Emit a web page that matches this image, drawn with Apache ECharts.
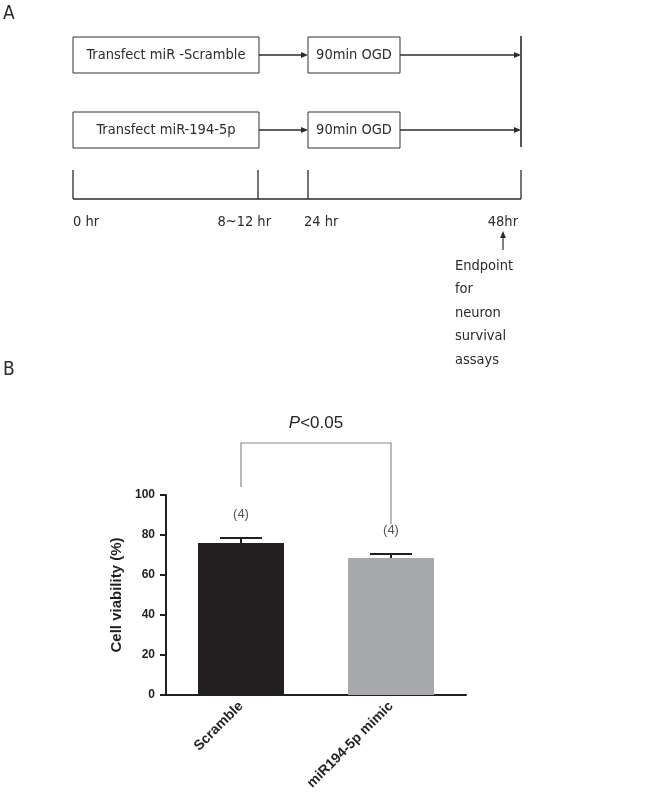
<!DOCTYPE html>
<html>
<head>
<meta charset="utf-8">
<script src="https://cdn.jsdelivr.net/npm/echarts@6/dist/echarts.min.js"></script>
<style>html,body{margin:0;padding:0;background:#fff}#main{width:662px;height:795px}</style>
</head>
<body>
<div id="main"></div>
<script>
// 面板A 文字
var rowLabels = ['Transfect miR -Scramble', 'Transfect miR-194-5p'];
var stepLabel = '90min OGD';
var timeLabels = ['0 hr', '8~12 hr', '24 hr', '48hr'];
var endpointText = ['Endpoint', 'for', 'neuron', 'survival', 'assays'];

// 面板B 数据
var groups = ['Scramble', 'miR194-5p mimic'];
var viability = [76, 68.5];
var sem = [2.5, 2];
var nLabels = ['(4)', '(4)'];
var bracketY = [104, 126, 85.5];
var pValue = '<0.05';
var barColors = ['#231f20', '#a7a9ac'];

var fontA = '"Liberation Sans Narrow", "DejaVu Sans Condensed", "Liberation Sans", sans-serif';
var ink = '#2b2b2b';
var graphics = [];

function txt(x, y, s, align, size) {
	graphics.push({type:'text', x:x, y:y, style:{text:s, fontSize:size || 14.5, fontFamily:fontA, fill:ink, align:align || 'left', verticalAlign:'middle'}});
}
function line(x1, y1, x2, y2, w) {
	graphics.push({type:'line', shape:{x1:x1, y1:y1, x2:x2, y2:y2}, style:{stroke:ink, lineWidth:w || 1.3}});
}
function arrowR(x1, x2, y) {
	line(x1, y, x2 - 5, y);
	graphics.push({type:'polygon', shape:{points:[[x2 - 7, y - 3], [x2, y], [x2 - 7, y + 3]]}, style:{fill:ink}});
}
function box(x, y, w, h, s) {
	graphics.push({type:'rect', shape:{x:x, y:y, width:w, height:h}, style:{fill:'#fff', stroke:'#333', lineWidth:1}});
	txt(x + w / 2, y + h / 2, s, 'center');
}

/* 面板A 流程图 */
txt(3, 14, 'A', 'left', 19);
txt(3, 370, 'B', 'left', 19);
[37, 112].forEach(function (y, i) {
	box(73, y, 186, 36, rowLabels[i]);
	arrowR(259, 308, y + 18);
	box(308, y, 92, 36, stepLabel);
	arrowR(400, 521, y + 18);
});
line(521, 36, 521, 147, 1.6);
line(73, 199, 521, 199, 1.6);
[73, 258, 308, 521].forEach(function (x) { line(x, 170, x, 199, 1.3); });
txt(73, 222, timeLabels[0], 'left');
txt(271, 222, timeLabels[1], 'right');
txt(304, 222, timeLabels[2], 'left');
txt(518, 222, timeLabels[3], 'right');
line(503, 250, 503, 236, 1.2);
graphics.push({type:'polygon', shape:{points:[[500, 238], [503, 231], [506, 238]]}, style:{fill:ink}});
endpointText.forEach(function (s, i) { txt(455, 266 + 23.5 * i, s, 'left'); });

/* 误差线 */
function renderError(params, api) {
	var i = api.value(0);
	var base = api.coord([i, api.value(1)]);
	var hi = api.coord([i, api.value(1) + api.value(2)]);
	var st = {stroke:'#231f20', lineWidth:2};
	return {type:'group', children:[
		{type:'line', shape:{x1:base[0], y1:base[1], x2:hi[0], y2:hi[1]}, style:st},
		{type:'line', shape:{x1:hi[0] - 21, y1:hi[1], x2:hi[0] + 21, y2:hi[1]}, style:st},
		{type:'text', x:hi[0], y:hi[1] - 24, style:{text:nLabels[i], fontSize:13, fontFamily:'Liberation Sans', fill:'#555', align:'center', verticalAlign:'middle'}}
	]};
}
/* 显著性括号 */
function renderBracket(params, api) {
	var a = api.coord([api.value(0), api.value(2)]);
	var b = api.coord([api.value(0), api.value(3)]);
	var c = api.coord([api.value(1), api.value(3)]);
	var d = api.coord([api.value(1), api.value(4)]);
	return {type:'group', children:[
		{type:'polyline', shape:{points:[a, b, c, d]}, style:{stroke:'#8a8a8a', lineWidth:1.2, fill:null}},
		{type:'text', x:(b[0] + c[0]) / 2, y:b[1] - 20, style:{text:'{i|P}' + pValue, fontSize:17, fontFamily:'Liberation Sans', fill:'#222', align:'center', verticalAlign:'middle',
			rich:{i:{fontStyle:'italic', fontSize:17, fontFamily:'Liberation Sans', fill:'#222'}}}}
	]};
}

option = {
	backgroundColor:'#fff',
	animation:false,
	graphic:graphics,
	grid:{left:166, top:495, width:300, height:200},
	xAxis:{
		type:'category',
		data:groups,
		axisLine:{lineStyle:{color:'#231f20', width:2}},
		axisTick:{alignWithLabel:true, length:5, lineStyle:{color:'#231f20', width:2}},
		axisLabel:{rotate:45, margin:9, fontWeight:'bold', fontSize:14, fontFamily:'Liberation Sans', color:'#231f20'}
	},
	yAxis:{
		type:'value', min:0, max:100, interval:20,
		name:'Cell viability (%)', nameLocation:'middle', nameGap:42, nameRotate:90,
		nameTextStyle:{fontWeight:'bold', fontSize:15, fontFamily:'Liberation Sans', color:'#231f20'},
		axisLine:{show:true, lineStyle:{color:'#231f20', width:2}},
		axisTick:{show:true, length:6, lineStyle:{color:'#231f20', width:2}},
		splitLine:{show:false},
		axisLabel:{margin:11, fontWeight:'bold', fontSize:12, fontFamily:'Liberation Sans', color:'#231f20'}
	},
	series:[
		{type:'bar', barWidth:86, data:viability.map(function (v, i) { return {value:v, itemStyle:{color:barColors[i]}}; })},
		{type:'custom', renderItem:renderError, encode:{x:0, y:1}, z:3,
			data:viability.map(function (v, i) { return [i, v, sem[i]]; })},
		{type:'custom', renderItem:renderBracket, encode:{x:[0, 1], y:[2, 3, 4]}, z:3,
			data:[[0, 1].concat(bracketY)]}
	]
};

/*初始化echarts实例*/
var myChart = echarts.init(document.getElementById('main'));
myChart.setOption(option);
</script>
</body>
</html>
